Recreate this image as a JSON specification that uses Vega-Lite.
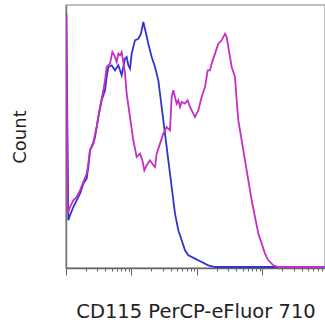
{
  "$schema": "https://vega.github.io/schema/vega-lite/v6.json",
  "autosize": "none",
  "width": 259,
  "height": 263,
  "padding": {"left": 66, "top": 5, "right": 0, "bottom": 57},
  "background": "white",
  "config": {"view": {"stroke": "#aaaaaa", "strokeWidth": 1.5}, "font": "DejaVu Sans"},
  "data": {"values": [
    {"sample": "Control", "intensity": 1.01, "count": 254.3},
    {"sample": "Control", "intensity": 1.086, "count": 47.7},
    {"sample": "Control", "intensity": 1.151, "count": 52.7},
    {"sample": "Control", "intensity": 1.294, "count": 61},
    {"sample": "Control", "intensity": 1.455, "count": 67.7},
    {"sample": "Control", "intensity": 1.636, "count": 74.4},
    {"sample": "Control", "intensity": 1.839, "count": 84.4},
    {"sample": "Control", "intensity": 2.068, "count": 89.4},
    {"sample": "Control", "intensity": 2.193, "count": 101},
    {"sample": "Control", "intensity": 2.325, "count": 117.7},
    {"sample": "Control", "intensity": 2.614, "count": 124.4},
    {"sample": "Control", "intensity": 2.772, "count": 131},
    {"sample": "Control", "intensity": 3.117, "count": 151},
    {"sample": "Control", "intensity": 3.504, "count": 167.7},
    {"sample": "Control", "intensity": 3.939, "count": 177.7},
    {"sample": "Control", "intensity": 4.177, "count": 191},
    {"sample": "Control", "intensity": 4.429, "count": 201},
    {"sample": "Control", "intensity": 4.98, "count": 202.7},
    {"sample": "Control", "intensity": 5.6, "count": 197.7},
    {"sample": "Control", "intensity": 6.295, "count": 202.7},
    {"sample": "Control", "intensity": 7.078, "count": 192.7},
    {"sample": "Control", "intensity": 7.506, "count": 201},
    {"sample": "Control", "intensity": 7.959, "count": 209.4},
    {"sample": "Control", "intensity": 8.438, "count": 211},
    {"sample": "Control", "intensity": 8.948, "count": 202.7},
    {"sample": "Control", "intensity": 9.486, "count": 199.4},
    {"sample": "Control", "intensity": 10.06, "count": 214.4},
    {"sample": "Control", "intensity": 11.31, "count": 227.7},
    {"sample": "Control", "intensity": 12.72, "count": 229.3},
    {"sample": "Control", "intensity": 13.96, "count": 234.3},
    {"sample": "Control", "intensity": 15.16, "count": 246},
    {"sample": "Control", "intensity": 16.46, "count": 236},
    {"sample": "Control", "intensity": 18.07, "count": 224.3},
    {"sample": "Control", "intensity": 20.32, "count": 211},
    {"sample": "Control", "intensity": 22.85, "count": 201},
    {"sample": "Control", "intensity": 25.69, "count": 187.7},
    {"sample": "Control", "intensity": 28.88, "count": 161},
    {"sample": "Control", "intensity": 32.47, "count": 134.4},
    {"sample": "Control", "intensity": 36.51, "count": 107.7},
    {"sample": "Control", "intensity": 41.05, "count": 81},
    {"sample": "Control", "intensity": 46.15, "count": 54.4},
    {"sample": "Control", "intensity": 51.88, "count": 37.7},
    {"sample": "Control", "intensity": 58.33, "count": 27.7},
    {"sample": "Control", "intensity": 65.59, "count": 17.7},
    {"sample": "Control", "intensity": 73.74, "count": 12.7},
    {"sample": "Control", "intensity": 93.22, "count": 9.4},
    {"sample": "Control", "intensity": 117.8, "count": 6},
    {"sample": "Control", "intensity": 148.9, "count": 2.7},
    {"sample": "Control", "intensity": 188.3, "count": 1},
    {"sample": "Control", "intensity": 8900, "count": 1},
    {"sample": "CD115", "intensity": 1.01, "count": 254.3},
    {"sample": "CD115", "intensity": 1.06, "count": 54.4},
    {"sample": "CD115", "intensity": 1.151, "count": 61},
    {"sample": "CD115", "intensity": 1.294, "count": 67.7},
    {"sample": "CD115", "intensity": 1.455, "count": 71},
    {"sample": "CD115", "intensity": 1.636, "count": 77.7},
    {"sample": "CD115", "intensity": 1.839, "count": 86},
    {"sample": "CD115", "intensity": 2.068, "count": 94.4},
    {"sample": "CD115", "intensity": 2.193, "count": 104.4},
    {"sample": "CD115", "intensity": 2.325, "count": 117.7},
    {"sample": "CD115", "intensity": 2.614, "count": 126},
    {"sample": "CD115", "intensity": 2.939, "count": 141},
    {"sample": "CD115", "intensity": 3.305, "count": 161},
    {"sample": "CD115", "intensity": 3.715, "count": 177.7},
    {"sample": "CD115", "intensity": 3.939, "count": 187.7},
    {"sample": "CD115", "intensity": 4.177, "count": 201},
    {"sample": "CD115", "intensity": 4.696, "count": 204.4},
    {"sample": "CD115", "intensity": 5.098, "count": 216},
    {"sample": "CD115", "intensity": 5.47, "count": 212.7},
    {"sample": "CD115", "intensity": 5.936, "count": 206},
    {"sample": "CD115", "intensity": 6.295, "count": 214.4},
    {"sample": "CD115", "intensity": 6.675, "count": 212.7},
    {"sample": "CD115", "intensity": 7.078, "count": 216},
    {"sample": "CD115", "intensity": 7.506, "count": 206},
    {"sample": "CD115", "intensity": 7.959, "count": 194.4},
    {"sample": "CD115", "intensity": 8.438, "count": 174.4},
    {"sample": "CD115", "intensity": 9.486, "count": 151},
    {"sample": "CD115", "intensity": 10.66, "count": 127.7},
    {"sample": "CD115", "intensity": 11.99, "count": 111},
    {"sample": "CD115", "intensity": 13.49, "count": 114.4},
    {"sample": "CD115", "intensity": 14.64, "count": 107.7},
    {"sample": "CD115", "intensity": 15.7, "count": 97.7},
    {"sample": "CD115", "intensity": 17.04, "count": 102.7},
    {"sample": "CD115", "intensity": 19.16, "count": 107.7},
    {"sample": "CD115", "intensity": 21.54, "count": 102.7},
    {"sample": "CD115", "intensity": 22.85, "count": 101},
    {"sample": "CD115", "intensity": 24.23, "count": 114.4},
    {"sample": "CD115", "intensity": 27.24, "count": 124.4},
    {"sample": "CD115", "intensity": 30.62, "count": 134.4},
    {"sample": "CD115", "intensity": 34.43, "count": 141},
    {"sample": "CD115", "intensity": 38.71, "count": 137.7},
    {"sample": "CD115", "intensity": 41.05, "count": 171},
    {"sample": "CD115", "intensity": 43.52, "count": 177.7},
    {"sample": "CD115", "intensity": 46.15, "count": 171},
    {"sample": "CD115", "intensity": 48.94, "count": 164.4},
    {"sample": "CD115", "intensity": 51.88, "count": 167.7},
    {"sample": "CD115", "intensity": 55.02, "count": 161},
    {"sample": "CD115", "intensity": 58.33, "count": 166},
    {"sample": "CD115", "intensity": 65.59, "count": 164.4},
    {"sample": "CD115", "intensity": 72.03, "count": 167.7},
    {"sample": "CD115", "intensity": 78.18, "count": 161},
    {"sample": "CD115", "intensity": 87.9, "count": 154.4},
    {"sample": "CD115", "intensity": 93.22, "count": 151},
    {"sample": "CD115", "intensity": 104.8, "count": 157.7},
    {"sample": "CD115", "intensity": 117.8, "count": 171},
    {"sample": "CD115", "intensity": 132.5, "count": 181},
    {"sample": "CD115", "intensity": 145.6, "count": 197.7},
    {"sample": "CD115", "intensity": 157.9, "count": 197.7},
    {"sample": "CD115", "intensity": 167.4, "count": 204.4},
    {"sample": "CD115", "intensity": 188.3, "count": 214.4},
    {"sample": "CD115", "intensity": 211.7, "count": 224.3},
    {"sample": "CD115", "intensity": 238.1, "count": 227.7},
    {"sample": "CD115", "intensity": 267.6, "count": 234.3},
    {"sample": "CD115", "intensity": 283.8, "count": 231},
    {"sample": "CD115", "intensity": 300.9, "count": 221},
    {"sample": "CD115", "intensity": 338.3, "count": 201},
    {"sample": "CD115", "intensity": 380.4, "count": 191},
    {"sample": "CD115", "intensity": 403.3, "count": 167.7},
    {"sample": "CD115", "intensity": 427.7, "count": 147.7},
    {"sample": "CD115", "intensity": 480.8, "count": 127.7},
    {"sample": "CD115", "intensity": 540.5, "count": 107.7},
    {"sample": "CD115", "intensity": 607.7, "count": 87.7},
    {"sample": "CD115", "intensity": 683.2, "count": 67.7},
    {"sample": "CD115", "intensity": 768.1, "count": 51},
    {"sample": "CD115", "intensity": 863.6, "count": 34.4},
    {"sample": "CD115", "intensity": 971.1, "count": 24.4},
    {"sample": "CD115", "intensity": 1092, "count": 14.4},
    {"sample": "CD115", "intensity": 1228, "count": 7.7},
    {"sample": "CD115", "intensity": 1464, "count": 2.7},
    {"sample": "CD115", "intensity": 1745, "count": 1},
    {"sample": "CD115", "intensity": 8900, "count": 1}
  ]},
  "mark": {"type": "line", "strokeWidth": 1.8, "clip": true},
  "encoding": {
    "x": {
      "field": "intensity", "type": "quantitative",
      "scale": {"type": "log", "domain": [1, 9000]},
      "axis": {
        "title": "CD115 PerCP-eFluor 710",
        "titleFontSize": 19.5, "titleFontWeight": "normal", "titleColor": "#222222", "titlePadding": 27,
        "labels": false, "grid": false,
        "domainColor": "#666666", "domainWidth": 1.5,
        "tickColor": "#666666", "tickWidth": 1,
        "values": [1,2,3,4,5,6,7,8,9,10,20,30,40,50,60,70,80,90,100,200,300,400,500,600,700,800,900,1000,2000,3000,4000,5000,6000,7000,8000],
        "tickSize": {"condition": {"test": "indexof([1,10,100,1000], datum.value) >= 0", "value": 7}, "value": 3}
      }
    },
    "y": {
      "field": "count", "type": "quantitative",
      "scale": {"domain": [0, 263]},
      "axis": {
        "title": "Count", "titleFontSize": 18, "titleFontWeight": "normal", "titleColor": "#222222", "titlePadding": 37,
        "labels": false, "ticks": false, "grid": false,
        "domainColor": "#777777", "domainWidth": 1.5
      }
    },
    "color": {
      "field": "sample", "type": "nominal",
      "scale": {"domain": ["Control", "CD115"], "range": ["#3333cc", "#c42fc4"]},
      "legend": null
    }
  }
}
